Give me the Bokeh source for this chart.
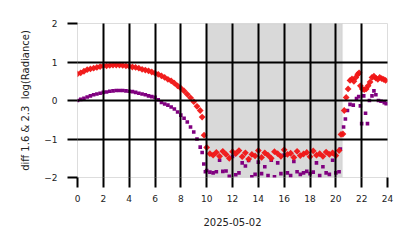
import math
from bokeh.plotting import figure
from bokeh.models import BoxAnnotation, FixedTicker, Range1d
from bokeh.embed import file_html
from bokeh.resources import INLINE

# ---------------- data ----------------
red_hours = [0, 0.25, 0.5, 0.75, 1, 1.25, 1.5, 1.75, 2, 2.25, 2.5, 2.75, 3, 3.25, 3.5, 3.75,
             4, 4.25, 4.5, 4.75, 5, 5.25, 5.5, 5.75, 6, 6.25, 6.5, 6.75, 7, 7.25, 7.5, 7.75,
             8, 8.25, 8.5, 8.75, 9, 9.25, 9.5, 9.65, 9.8,
             10, 10.25, 10.5, 10.75, 11, 11.25, 11.5, 11.75, 12, 12.25, 12.5, 12.75,
             13, 13.25, 13.5, 13.75, 14, 14.25, 14.5, 14.75, 15, 15.25, 15.5, 15.75,
             16, 16.25, 16.5, 16.75, 17, 17.25, 17.5, 17.75, 18, 18.25, 18.5, 18.75,
             19, 19.25, 19.5, 19.75, 20, 20.25,
             20.4, 20.55, 20.65, 20.8, 20.95, 21.1, 21.25, 21.4, 21.55, 21.7, 21.8, 21.9,
             22.05, 22.2, 22.35, 22.5, 22.65, 22.8, 22.95, 23.1, 23.25, 23.4, 23.55, 23.7, 23.85]
red_values = [0.69, 0.72, 0.76, 0.80, 0.82, 0.84, 0.86, 0.88, 0.90, 0.90, 0.91, 0.92, 0.92, 0.92, 0.91, 0.90,
              0.89, 0.87, 0.86, 0.84, 0.81, 0.79, 0.77, 0.74, 0.71, 0.68, 0.64, 0.60, 0.55, 0.51, 0.45, 0.38,
              0.32, 0.25, 0.16, 0.07, -0.03, -0.15, -0.26, -0.43, -0.90,
              -1.22, -1.38, -1.42, -1.35, -1.45, -1.32, -1.40, -1.50, -1.33, -1.38, -1.30, -1.46,
              -1.36, -1.52, -1.40, -1.44, -1.30, -1.48, -1.36, -1.42, -1.50, -1.33, -1.38, -1.45,
              -1.28, -1.40, -1.37, -1.48, -1.32, -1.43, -1.39, -1.35, -1.46, -1.31, -1.42, -1.38,
              -1.45, -1.34, -1.40, -1.36, -1.43, -1.30,
              -0.88, -0.87, -0.26, 0.08, 0.30, 0.52, 0.56, 0.50, 0.60, 0.68, 0.72, 0.38,
              0.30, 0.28, 0.30, 0.38, 0.48, 0.60, 0.63, 0.58, 0.55, 0.60, 0.57, 0.55, 0.52]

purple_hours = [0, 0.25, 0.5, 0.75, 1, 1.25, 1.5, 1.75, 2, 2.25, 2.5, 2.75, 3, 3.25, 3.5, 3.75,
                4, 4.25, 4.5, 4.75, 5, 5.25, 5.5, 5.75, 6, 6.25, 6.5, 6.75, 7, 7.25, 7.5, 7.75,
                8, 8.25, 8.5, 8.75, 9, 9.25, 9.5, 9.65, 9.78, 9.9,
                10, 10.25, 10.5, 10.75, 11, 11.25, 11.5, 11.75, 12, 12.25, 12.5, 12.75,
                13, 13.25, 13.5, 13.75, 14, 14.25, 14.5, 14.75, 15, 15.25, 15.5, 15.75,
                16, 16.25, 16.5, 16.75, 17, 17.25, 17.5, 17.75, 18, 18.25, 18.5, 18.75,
                19, 19.25, 19.5, 19.75, 20, 20.25,
                20.35, 20.6, 20.74, 20.9, 21.1, 21.35, 21.6, 21.77, 21.9, 22.0, 22.16,
                22.3, 22.45, 22.6, 22.8, 22.95, 23.1, 23.3, 23.5, 23.75, 23.9]
purple_values = [0.00, 0.03, 0.06, 0.09, 0.12, 0.15, 0.17, 0.19, 0.21, 0.22, 0.24, 0.25, 0.26, 0.26, 0.26, 0.25,
                 0.24, 0.23, 0.21, 0.19, 0.17, 0.15, 0.12, 0.10, 0.08, 0.02, -0.05, -0.09, -0.12, -0.17, -0.22, -0.30,
                 -0.38, -0.46, -0.56, -0.69, -0.82, -1.00, -1.21, -1.35, -1.65, -1.85,
                 -1.82, -1.86, -1.88, -1.85, -1.55, -1.84, -1.83, -1.97, -1.45, -1.93, -1.88, -1.62,
                 -1.70, -1.56, -1.98, -1.92, -1.60, -1.90, -1.72, -1.95, -1.55, -1.98, -1.62, -1.90,
                 -1.42, -1.88, -1.95, -1.58, -1.85, -1.92, -1.88, -1.84, -1.90, -1.86, -1.62, -1.95,
                 -1.72, -1.88, -1.92, -1.55, -1.88, -1.85,
                 -1.26, -0.69, -0.48, -0.26, -0.10, -0.12, 0.05, 0.10, -0.14, -0.60, 0.12,
                 -0.33, -0.60, 0.00, 0.12, 0.25, 0.15, 0.00, -0.02, -0.06, -0.08]

night_start = 10.0
night_end = 20.5
x_ticks = [0, 2, 4, 6, 8, 10, 12, 14, 16, 18, 20, 22, 24]
y_ticks = [-2, -1, 0, 1, 2]
y_tick_labels = {-2: "\u22122", -1: "\u22121", 0: "0", 1: "1", 2: "2"}
x_label = "2025-05-02"
y_label = "diff 1.6 & 2.3\u00a0\u00a0log(Radiance)"

# ---------------- figure ----------------
FONT = "DejaVu Sans"
p = figure(width=414, height=248, output_backend="svg", toolbar_location=None,
           x_range=Range1d(0, 24), y_range=Range1d(-2, 2),
           min_border_left=77, min_border_right=27, min_border_top=23, min_border_bottom=71)
p.background_fill_color = "white"
p.border_fill_color = "white"
p.outline_line_color = "#dddddd"
p.outline_line_width = 1

band = BoxAnnotation(left=night_start, right=night_end, fill_color="#d9d9d9", fill_alpha=1.0,
                     line_color="#c8c8c8", line_width=1.5, level="underlay")
p.add_layout(band)

p.scatter(purple_hours, purple_values, marker="square", size=3.6,
          fill_color="#800080", line_color=None)
p.scatter(red_hours, red_values, marker="square", size=4.8, angle=math.pi / 4,
          fill_color="#f01515", fill_alpha=0.95, line_color=None)

p.xaxis.ticker = FixedTicker(ticks=x_ticks)
p.yaxis.ticker = FixedTicker(ticks=y_ticks)
p.yaxis.major_label_overrides = y_tick_labels
p.xaxis.minor_tick_line_color = None
p.yaxis.minor_tick_line_color = None

for ax in (p.xaxis, p.yaxis):
    ax.axis_line_color = None
    ax.major_tick_line_color = "black"
    ax.major_tick_line_width = 2
    ax.major_tick_in = 0
    ax.major_tick_out = 10
    ax.major_label_text_font = FONT
    ax.major_label_text_font_size = "9px"
    ax.major_label_text_color = "#222222"
    ax.axis_label_text_font = FONT
    ax.axis_label_text_font_size = "10px"
    ax.axis_label_text_font_style = "normal"
    ax.axis_label_text_color = "#222222"

p.xaxis.major_label_standoff = 7
p.yaxis.major_label_standoff = 10
p.xaxis.axis_label = x_label
p.xaxis.axis_label_standoff = 13
p.yaxis.axis_label = y_label
p.yaxis.axis_label_standoff = 10

for g in (p.xgrid, p.ygrid):
    g.grid_line_color = "black"
    g.grid_line_width = 2
    g.grid_line_alpha = 1.0
    g.level = "overlay"
p.xgrid.ticker = FixedTicker(ticks=x_ticks)
p.ygrid.ticker = FixedTicker(ticks=y_ticks)

open("out.html", "w").write(file_html(p, INLINE))
